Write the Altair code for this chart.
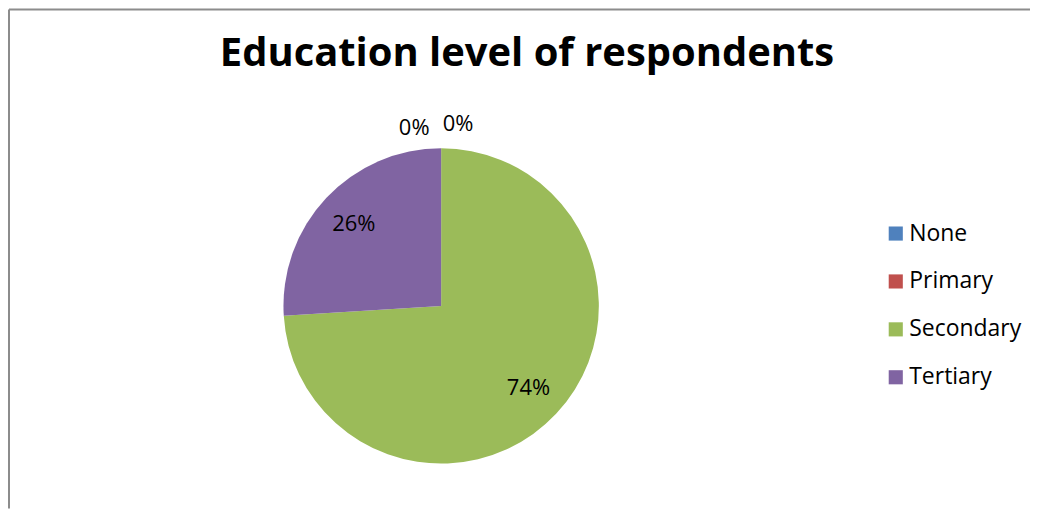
import altair as alt
import pandas as pd

categories = ["None", "Primary", "Secondary", "Tertiary"]
values = [0, 0, 74, 26]
labels = ["0%", "0%", "74%", "26%"]
colors = ["#4F81BD", "#C0504D", "#9BBB59", "#8064A2"]
title_text = "Education level of respondents"

df = pd.DataFrame({
    "category": categories,
    "value": values,
    "label": labels,
    "idx": list(range(len(categories))),
})

FONT = "Open Sans"
CX, CY, R = 433, 297, 158
W, H = 1023, 500

base = alt.Chart(df).encode(
    theta=alt.Theta("value:Q", stack=True),
    order=alt.Order("idx:Q"),
)

pie = base.mark_arc(outerRadius=R).encode(
    x=alt.value(CX),
    y=alt.value(CY),
    color=alt.Color(
        "category:N",
        scale=alt.Scale(domain=categories, range=colors),
        sort=categories,
        legend=alt.Legend(
            title=None,
            orient="none",
            legendX=877,
            legendY=213,
            symbolType="square",
            symbolSize=200,
            symbolStrokeWidth=0,
            labelFont=FONT,
            labelFontSize=23,
            labelColor="#000000",
            labelOffset=2,
            rowPadding=24,
        ),
    ),
)

inner_labels = base.transform_filter("datum.value > 0").mark_text(
    radius=120, font=FONT, fontSize=22, color="#000000"
).encode(x=alt.value(CX), y=alt.value(CY), text="label:N")

zero_none = base.transform_filter("datum.category == 'None'").mark_text(
    radius=180, font=FONT, fontSize=22, color="#000000", dx=17, dy=-2
).encode(x=alt.value(CX), y=alt.value(CY), text="label:N")

zero_primary = base.transform_filter("datum.category == 'Primary'").mark_text(
    radius=180, font=FONT, fontSize=22, color="#000000", dx=-27, dy=2
).encode(x=alt.value(CX), y=alt.value(CY), text="label:N")

title = alt.Chart(pd.DataFrame({"t": [title_text]})).mark_text(
    font=FONT, fontSize=40, fontWeight="bold", color="#000000",
    align="center", baseline="alphabetic"
).encode(x=alt.value(519), y=alt.value(57), text="t:N")

border_top = alt.Chart(pd.DataFrame({"a": [0]})).mark_rule(
    color="#8c8c8c", strokeWidth=2
).encode(x=alt.value(0), x2=alt.value(W), y=alt.value(0))
border_left = alt.Chart(pd.DataFrame({"a": [0]})).mark_rule(
    color="#8c8c8c", strokeWidth=2
).encode(x=alt.value(0), y=alt.value(0), y2=alt.value(H))

chart = alt.layer(
    pie, inner_labels, zero_none, zero_primary, title, border_top, border_left
).properties(
    width=W, height=H, padding=0,
    view=alt.ViewBackground(stroke="transparent", strokeWidth=0),
).configure(background="#ffffff")

chart.save("out.html", embed_options={"renderer": "svg", "actions": False})
